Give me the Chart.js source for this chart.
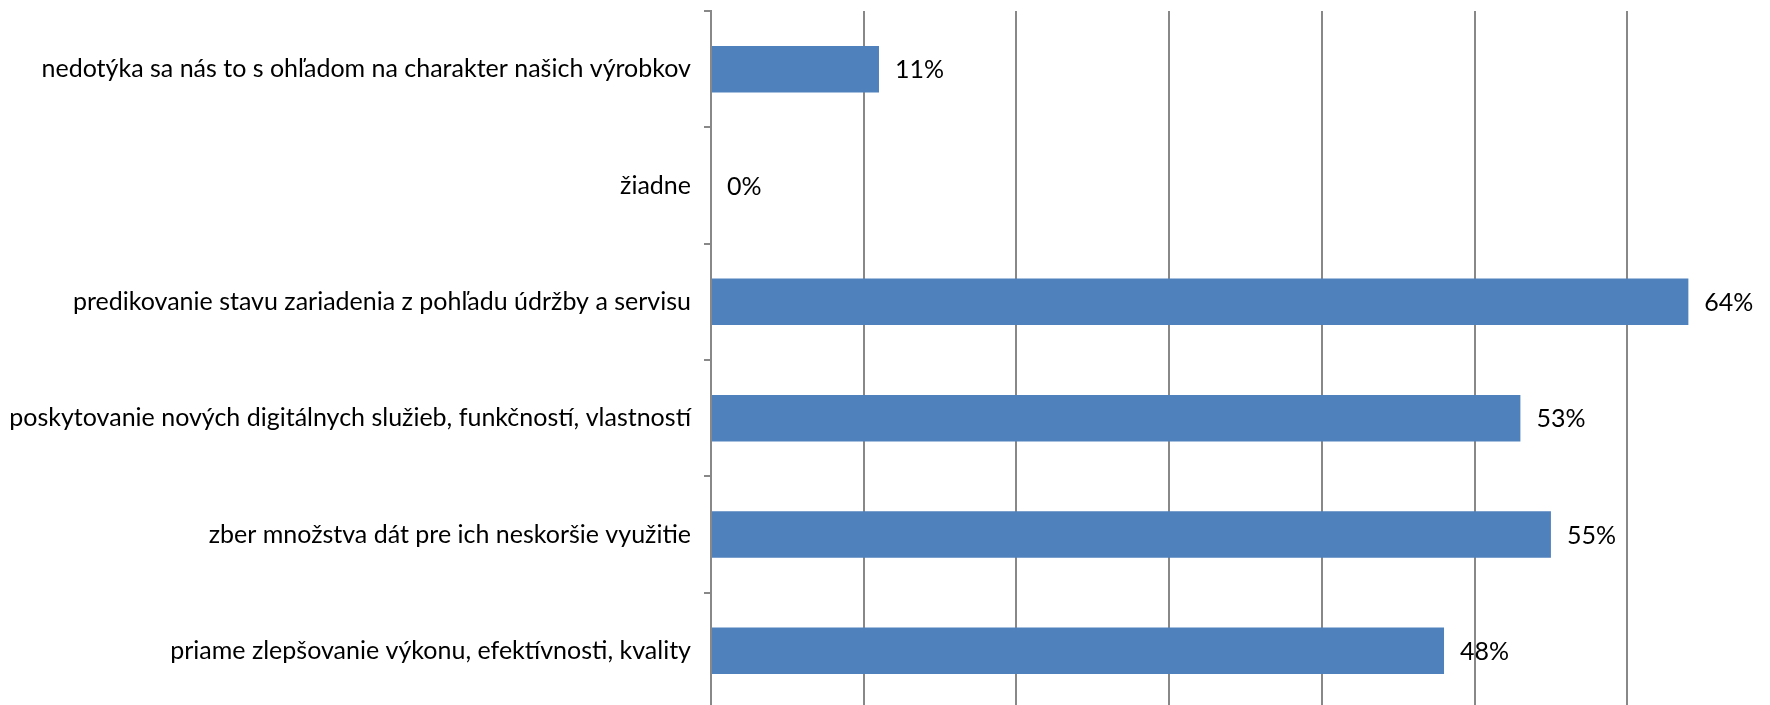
<!DOCTYPE html>
<html>
<head>
<meta charset="utf-8">
<script src="https://cdn.jsdelivr.net/npm/chart.js@4/dist/chart.umd.min.js"></script>
<style>
  body { margin: 0; overflow: hidden; background: #fff; }
  #wrap { position: absolute; left: 0; top: 0; width: 1800px; height: 709px; }
</style>
</head>
<body>
<div id="wrap"><canvas id="graf"></canvas></div>
<script>
// kategorie zhora nadol
const kategorie = [
  "nedotýka sa nás to s ohľadom na charakter našich výrobkov",
  "žiadne",
  "predikovanie stavu zariadenia z pohľadu údržby a servisu",
  "poskytovanie nových digitálnych služieb, funkčností, vlastností",
  "zber množstva dát pre ich neskoršie využitie",
  "priame zlepšovanie výkonu, efektívnosti, kvality",
];
const hodnoty = [11, 0, 64, 53, 55, 48];
const osX = { min: 0, max: 70, krok: 10 };

const pismo = "Lato, 'Liberation Sans', sans-serif";
const velkost = 25;

// popisky hodnot na konci stlpcov
const popisky = {
  id: "popisky",
  afterDatasetsDraw(chart) {
    const ctx = chart.ctx;
    const meta = chart.getDatasetMeta(0);
    ctx.save();
    ctx.font = velkost + "px " + pismo;
    ctx.fillStyle = "#000";
    ctx.textBaseline = "middle";
    ctx.textAlign = "left";
    meta.data.forEach(function (bar, i) {
      ctx.fillText(hodnoty[i] + "%", bar.x + 16, bar.y + 1);
    });
    ctx.restore();
  },
};

new Chart(document.getElementById("graf"), {
  type: "bar",
  data: {
    labels: kategorie,
    datasets: [
      {
        data: hodnoty,
        backgroundColor: "#4F81BD",
        borderWidth: 0,
        categoryPercentage: 1,
        barPercentage: 0.4,
      },
    ],
  },
  options: {
    indexAxis: "y",
    responsive: true,
    maintainAspectRatio: false,
    animation: false,
    layout: { padding: { top: 11, right: 20, bottom: 0, left: 0 } },
    plugins: {
      legend: { display: false },
      tooltip: { enabled: false },
    },
    scales: {
      x: {
        min: osX.min,
        max: osX.max,
        ticks: { display: false, stepSize: osX.krok },
        grid: { color: "#888888", lineWidth: 2, drawTicks: false },
        border: { display: false },
        afterFit: function (scale) {
          scale.height = 0;
          scale.paddingLeft = 0;
          scale.paddingRight = 0;
        },
      },
      y: {
        ticks: {
          color: "#000",
          font: { family: pismo, size: velkost },
          padding: 13,
        },
        grid: {
          drawOnChartArea: false,
          drawTicks: true,
          tickLength: 7,
          lineWidth: 2,
          color: "#888888",
          offset: true,
        },
        border: { display: true, color: "#888888", width: 2 },
        afterFit: function (scale) {
          scale.width = 711;
          scale.paddingTop = 0;
          scale.paddingBottom = 0;
        },
      },
    },
  },
  plugins: [popisky],
});
</script>
</body>
</html>
